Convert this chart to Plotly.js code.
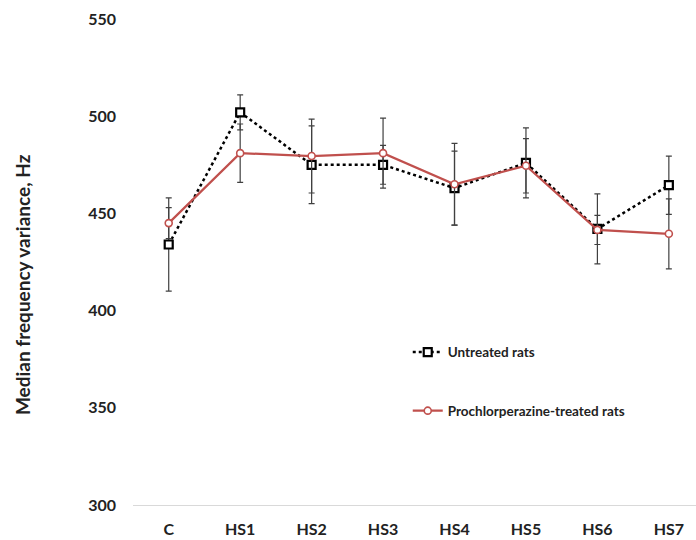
<!DOCTYPE html>
<html>
<head>
<meta charset="utf-8">
<script src="https://cdn.plot.ly/plotly-3.0.1.min.js"></script>
<style>html,body{margin:0;padding:0;background:#fff;}#chart{width:696px;height:540px;}</style>
</head>
<body>
<div id="chart"></div>
<script>
var categories = ["C", "HS1", "HS2", "HS3", "HS4", "HS5", "HS6", "HS7"];
var untreated = [434, 502, 475, 475, 463, 476, 442, 464.5];
var untreatedErr = [24, 9, 20, 10, 19, 18, 18, 15];
var treated = [445, 481, 479.5, 481, 465, 474.5, 441.5, 439.5];
var treatedErr = [8, 15, 19, 18, 21, 14, 7.5, 18];
var yTicks = [300, 350, 400, 450, 500, 550];

var errColor = '#404040';
var traces = [
  {
    x: categories, y: untreated, name: 'Untreated rats', type: 'scatter', mode: 'lines+markers',
    legendgroup: 'a',
    line: {color: '#000000', width: 2.5, dash: 'dot'},
    marker: {symbol: 'square', size: 8, color: '#ffffff', line: {color: '#000000', width: 2.2}},
    error_y: {type: 'data', array: untreatedErr, visible: true, color: errColor, thickness: 1.2, width: 3}
  },
  {
    x: categories, y: treated, name: 'Prochlorperazine-treated rats', type: 'scatter', mode: 'lines+markers',
    legendgroup: 'b',
    line: {color: '#c0504d', width: 2.2},
    marker: {symbol: 'circle', size: 7, color: '#ffffff', line: {color: '#c0504d', width: 1.6}},
    error_y: {type: 'data', array: treatedErr, visible: true, color: errColor, thickness: 1.2, width: 3}
  }
];

var layout = {
  width: 696, height: 540,
  margin: {l: 133, r: 0, t: 19, b: 35},
  paper_bgcolor: '#ffffff', plot_bgcolor: '#ffffff',
  font: {family: 'Lato, "Open Sans", sans-serif', color: '#222222'},
  showlegend: true,
  legend: {
    x: 0.488, y: 0.346, xanchor: 'left', yanchor: 'top',
    font: {size: 13.5, weight: 'bold', color: '#222222'},
    tracegroupgap: 38, traceorder: 'grouped', bgcolor: 'rgba(0,0,0,0)'
  },
  xaxis: {
    type: 'category', range: [-0.5, 7.38],
    showgrid: false, zeroline: false,
    showline: true, linecolor: '#d9d9d9', linewidth: 1,
    ticks: '', tickfont: {size: 16, weight: 'bold', color: '#222222'},
    ticklabelstandoff: 10
  },
  yaxis: {
    range: [300, 550], tickvals: yTicks,
    showgrid: false, zeroline: false, showline: false,
    ticks: '', tickfont: {size: 16, weight: 'bold', color: '#222222'},
    ticklabelstandoff: 16
  },
  annotations: [{
    text: 'Median frequency variance, Hz', textangle: -90,
    xref: 'paper', yref: 'paper', x: -0.195, y: 0.453,
    xanchor: 'center', yanchor: 'middle', showarrow: false,
    font: {size: 19, weight: 'bold', color: '#222222'}
  }]
};

Plotly.newPlot('chart', traces, layout, {displayModeBar: false, staticPlot: true});
</script>
</body>
</html>
